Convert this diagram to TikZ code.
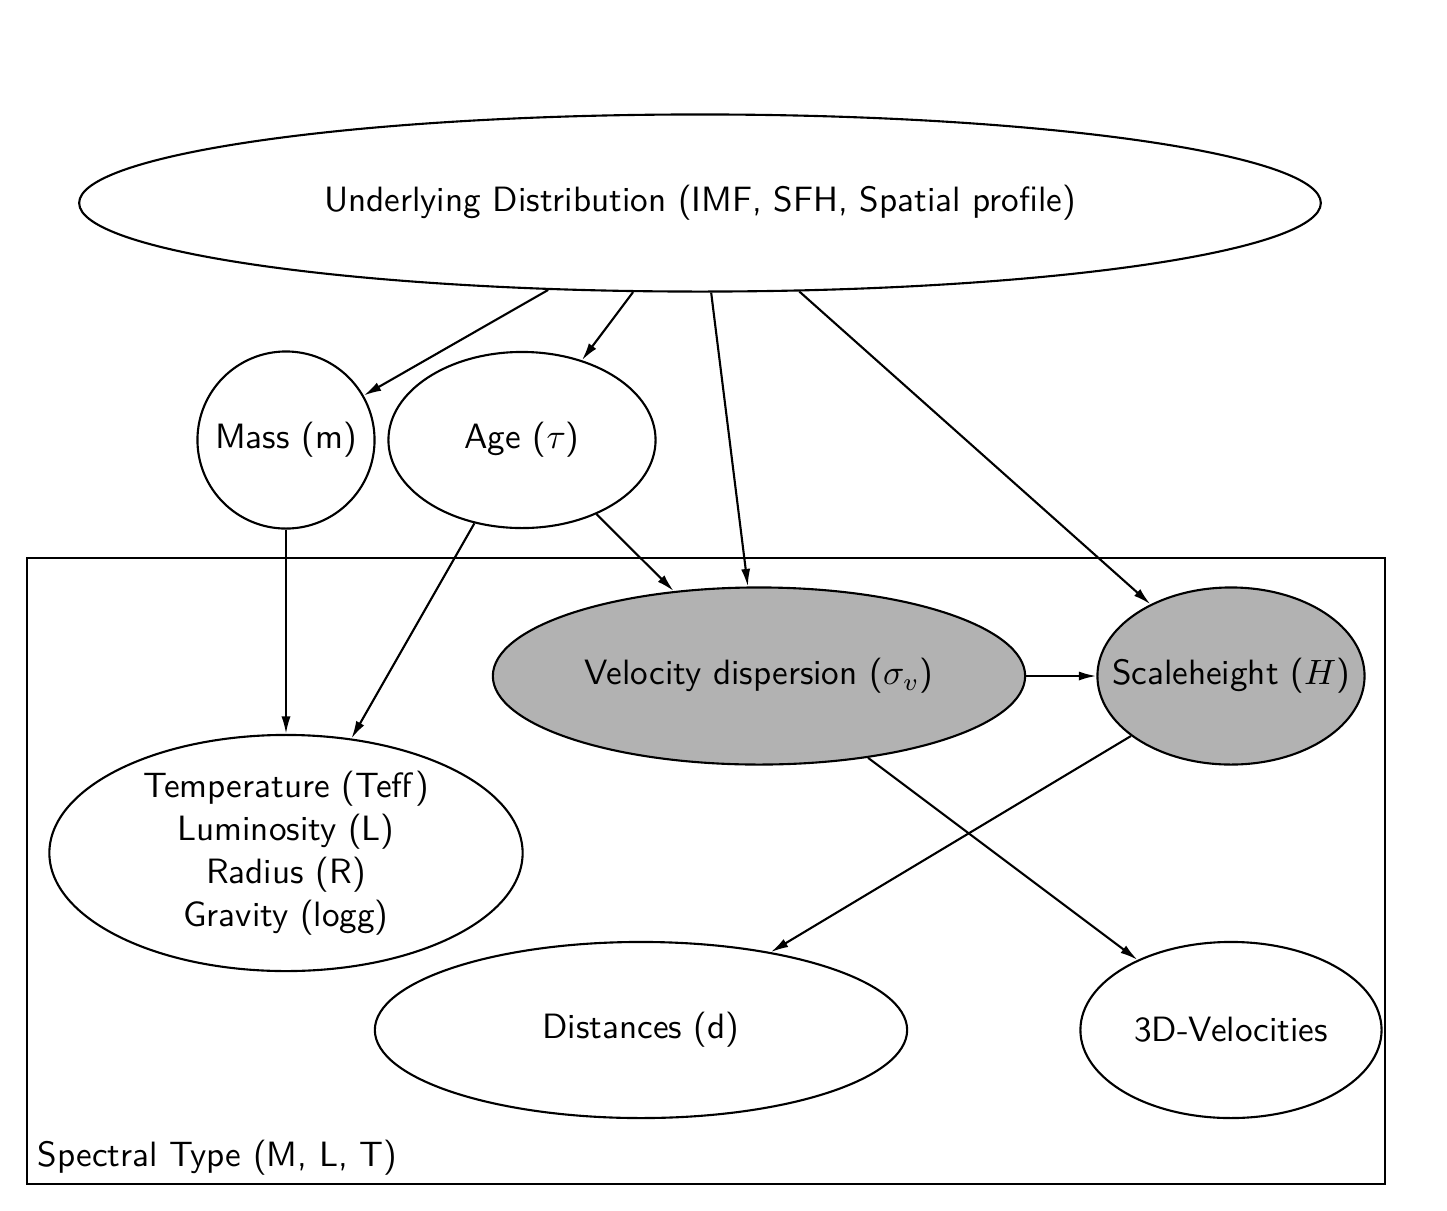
\documentclass[tikz,border=0pt]{standalone}
\usetikzlibrary{shapes.geometric,arrows.meta}
\begin{document}
\begin{tikzpicture}[x=0.01cm,y=-0.01cm,
  every node/.style={font=\sffamily\fontsize{10}{12.2}\selectfont},
  ell/.style={draw,ellipse,inner sep=0pt,line width=0.6pt},
  obs/.style={ell,fill=black!30},
  lbl/.style={inner sep=0pt,align=center},
  edge/.style={line width=0.6pt,-{Latex[length=5pt,width=2.6pt]}}]
\useasboundingbox (0,0) rectangle (1447,1211);
\draw[line width=0.6pt] (27,558) rectangle (1385,1184);
\node[anchor=base west,inner sep=0pt] (plate) at (37,1166) {Spectral Type (M, L, T)};
\node[ell,minimum width=12.41cm,minimum height=1.77cm] (U) at (700,203) {};
\node[lbl] (Ut) at (U) {Underlying Distribution (IMF, SFH, Spatial profile)};
\node[ell,minimum width=1.77cm,minimum height=1.77cm] (M) at (286,440) {};
\node[lbl] (Mt) at (M) {Mass (m)};
\node[ell,minimum width=2.67cm,minimum height=1.76cm] (A) at (522,440) {};
\node[lbl] (At) at (A) {Age ($\tau$)};
\node[obs,minimum width=5.32cm,minimum height=1.77cm] (V) at (759,676) {};
\node[lbl] (Vt) at (V) {Velocity dispersion ($\sigma_v$)};
\node[obs,minimum width=2.67cm,minimum height=1.77cm] (H) at (1231,676) {};
\node[lbl] (Ht) at (H) {Scaleheight ($H$)};
\node[ell,minimum width=4.73cm,minimum height=2.36cm] (T) at (286,853) {};
\node[lbl] (Tt) at (T) {Temperature (Teff)\\Luminosity (L)\\Radius (R)\\Gravity (logg)};
\node[ell,minimum width=5.32cm,minimum height=1.76cm] (D) at (641,1030) {};
\node[lbl] (Dt) at (D) {Distances (d)};
\node[ell,minimum width=3.01cm,minimum height=1.76cm] (W) at (1231,1030) {};
\node[lbl] (Wt) at (W) {3D-Velocities};
\draw[edge] (U) -- (M);
\draw[edge] (U) -- (A);
\draw[edge] (U) -- (V);
\draw[edge] (U) -- (H);
\draw[edge] (A) -- (V);
\draw[edge] (M) -- (T);
\draw[edge] (A) -- (T);
\draw[edge] (V) -- (H);
\draw[edge] (V) -- (W);
\draw[edge] (H) -- (D);
\end{tikzpicture}
\end{document}
